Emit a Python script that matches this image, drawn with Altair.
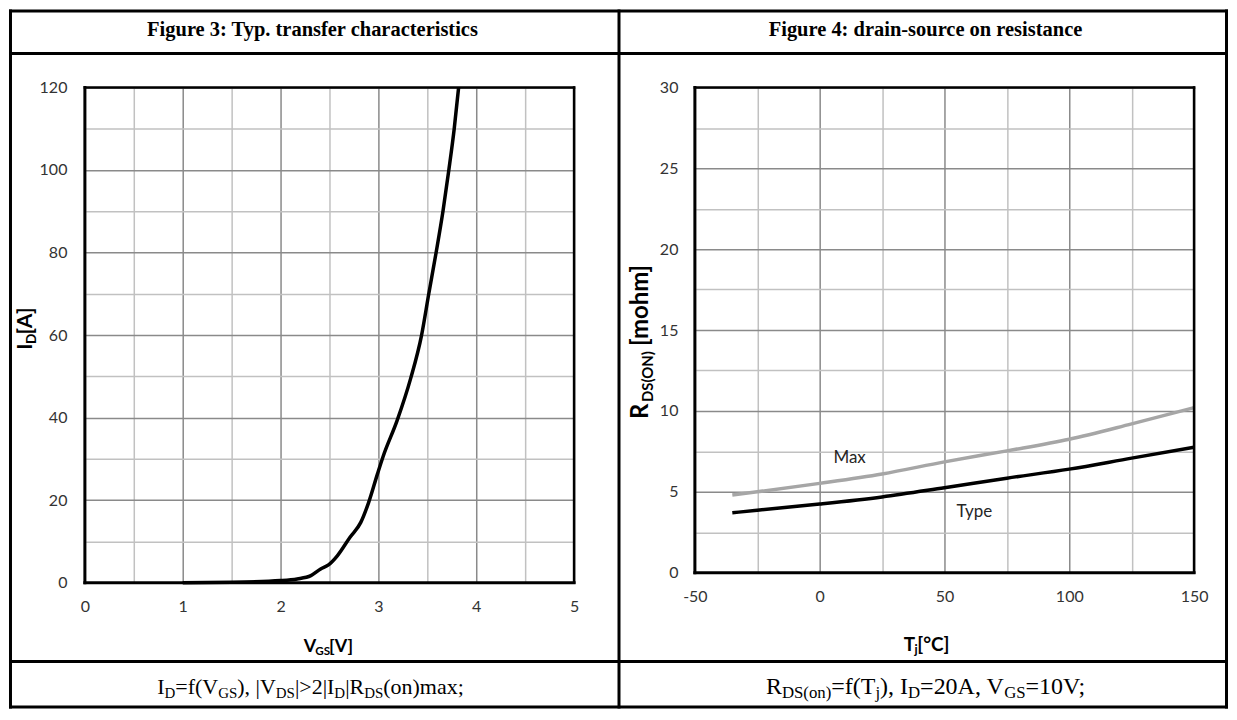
import altair as alt
import pandas as pd

# ---------------- data ----------------
# Figure 3: transfer characteristic
vgs = [1.0, 1.5, 2.0, 2.17, 2.31, 2.41, 2.49, 2.58, 2.71, 2.82, 2.90, 2.99, 3.05,
       3.19, 3.33, 3.44, 3.515, 3.59, 3.66, 3.72, 3.775, 3.82]
id_a = [0.0, 0.1, 0.5, 0.9, 1.7, 3.3, 4.3, 6.5, 11.0, 14.6, 19.4, 26.3, 30.7,
        39.2, 49.5, 59.8, 70.0, 80.0, 90.0, 100.0, 110.0, 120.0]

# Figure 4: on resistance vs temperature
tj = [-35, -25, 0, 25, 50, 75, 100, 125, 150]
r_max = [4.8, 5.0, 5.52, 6.1, 6.85, 7.53, 8.25, 9.2, 10.2]
r_typ = [3.7, 3.86, 4.24, 4.68, 5.25, 5.84, 6.4, 7.08, 7.75]

curve_names = ["Max", "Type"]
name_t = [12, 62]
name_r = [7.1, 3.77]

x1_ticks = [0, 0.5, 1, 1.5, 2, 2.5, 3, 3.5, 4, 4.5, 5]
y1_ticks = [0, 10, 20, 30, 40, 50, 60, 70, 80, 90, 100, 110, 120]
x2_ticks = [-50, -25, 0, 25, 50, 75, 100, 125, 150]
y2_ticks = [0, 2.5, 5, 7.5, 10, 12.5, 15, 17.5, 20, 22.5, 25, 27.5, 30]

title1 = "Figure 3: Typ. transfer characteristics"
title2 = "Figure 4: drain-source on resistance"
foot1 = [("I", 0), ("D", 1), ("=f(", 0), ("V", 0), ("GS", 1), ("), |", 0), ("V", 0),
         ("DS", 1), ("|>2|I", 0), ("D", 1), ("|R", 0), ("DS", 1), ("(on)max;", 0)]
foot2 = [("R", 0), ("DS(on)", 1), ("=f(T", 0), ("j", 1), ("), I", 0), ("D", 1),
         ("=20A, V", 0), ("GS", 1), ("=10V;", 0)]
xt1 = [("V", 0), ("GS", 1), ("[V]", 0)]
yt1 = [("I", 0), ("D", 1), ("[A]", 0)]
xt2 = [("T", 0), ("j", 1), ("[°C]", 0)]
yt2 = [("R", 0), ("DS(ON)", 1), ("[mohm]", 0)]

# ---------------- layout helpers ----------------
TIMES = {' ': .25, '(': .333, ')': .333, ',': .25, '.': .25, ':': .278, ';': .278,
         '=': .564, '>': .564, '|': .2, 'A': .722, 'C': .667, 'D': .722, 'G': .722,
         'I': .333, 'R': .667, 'S': .556, 'T': .611, 'V': .722, 'a': .444, 'f': .333,
         'j': .278, 'm': .778, 'n': .5, 'o': .5, 'x': .5}
LATO_B = {'V': .64, 'G': .68, 'S': .50, '[': .30, ']': .30, 'I': .27, 'D': .70,
          'A': .64, 'T': .56, 'j': .23, '°': .36, 'C': .62, 'R': .60, '(': .30,
          ')': .30, 'O': .74, 'N': .71, ' ': .18, 'm': .80, 'o': .54, 'h': .54}

one = pd.DataFrame({"k": [0]})
SERIF = "Times New Roman, Liberation Serif, serif"
SANS = "Lato, Carlito, Calibri, sans-serif"

# page coordinates of the two plot areas
P1X, P1Y, W1, H1 = 84, 86, 490, 496
P2X, P2Y, W2, H2 = 695, 86, 500, 486


def seg_text(segs, widths, size, cx, cy, ox, oy, font, weight="normal",
             ratio=0.65, drop=0.2, angle=0, starts=None):
    sizes = [size * ratio if s else size for _, s in segs]
    ws = [sum(widths.get(c, 0.5) for c in t) * sz for (t, _), sz in zip(segs, sizes)]
    total = sum(ws)
    pos = -total / 2
    out = []
    for i, ((t, s), sz, w) in enumerate(zip(segs, sizes, ws)):
        if angle == 0:
            x = cx + pos if starts is None else starts[i]
            y = cy + (drop * size if s else 0)
        else:
            x = cx + (drop * size if s else 0)
            y = cy - pos if starts is None else starts[i]
        out.append(
            alt.Chart(one).mark_text(text=t, font=font, fontSize=sz, fontWeight=weight,
                                     align="left", baseline="alphabetic", angle=angle,
                                     color="black")
            .encode(x=alt.value(x - ox), y=alt.value(y - oy)))
        pos += w
    return out


def hrule(x1, x2, y, ox, oy, w=3, color="black"):
    return alt.Chart(one).mark_rule(strokeWidth=w, color=color, strokeCap="square").encode(
        x=alt.value(x1 - ox), x2=alt.value(x2 - ox), y=alt.value(y - oy))


def vrule(x, y1, y2, ox, oy, w=3, color="black"):
    return alt.Chart(one).mark_rule(strokeWidth=w, color=color, strokeCap="square").encode(
        x=alt.value(x - ox), y=alt.value(y1 - oy), y2=alt.value(y2 - oy))


def grid_color(test):
    return {"condition": {"test": test, "value": "#8a8a8a"}, "value": "#c1c1c1"}


# ---------------- left panel ----------------
df1 = pd.DataFrame({"vgs": vgs, "id": id_a})
x1 = alt.X("vgs:Q", scale=alt.Scale(domain=[0, 5], nice=False),
           axis=alt.Axis(values=x1_ticks, title=None, labelPadding=16,
                         labelExpr="datum.value % 1 === 0 ? '' + datum.value : ''",
                         gridColor=grid_color("datum.value % 1 === 0")))
y1 = alt.Y("id:Q", scale=alt.Scale(domain=[0, 120], nice=False),
           axis=alt.Axis(values=y1_ticks, title=None, labelPadding=18,
                         labelExpr="datum.value % 20 === 0 ? '' + datum.value : ''",
                         gridColor=grid_color("datum.value % 20 === 0")))
curve1 = alt.Chart(df1).mark_line(color="black", strokeWidth=3.5,
                                  interpolate="monotone").encode(x=x1, y=y1)

# table frame (page coords); kept inside the 1221 x 700 drawing area
LX, TY, RX, BY, MX, HY, FY = 9.5, 9.5, 1227.5, 706.5, 619, 52, 661
frame = [
    hrule(LX, RX, TY, P1X, P1Y), hrule(LX, RX, HY, P1X, P1Y),
    hrule(LX, RX, FY, P1X, P1Y), hrule(LX, RX, BY, P1X, P1Y),
    vrule(LX, TY, BY, P1X, P1Y), vrule(MX, TY, BY, P1X, P1Y),
    vrule(RX, TY, BY, P1X, P1Y),
]
box1 = [
    vrule(P1X, P1Y, P1Y + H1, P1X, P1Y, 3), hrule(P1X, P1X + W1, P1Y + H1, P1X, P1Y, 3),
    hrule(P1X, P1X + W1, P1Y, P1X, P1Y, 2.5), vrule(P1X + W1, P1Y, P1Y + H1, P1X, P1Y, 2.5),
]
titles = [
    alt.Chart(one).mark_text(text=title1, font=SERIF, fontSize=20.5, fontWeight="bold",
                             align="center", baseline="alphabetic", color="black")
    .encode(x=alt.value(312 - P1X), y=alt.value(34 - P1Y)),
    alt.Chart(one).mark_text(text=title2, font=SERIF, fontSize=20.5, fontWeight="bold",
                             align="center", baseline="alphabetic", color="black")
    .encode(x=alt.value(926 - P1X), y=alt.value(34 - P1Y)),
]
feet = (seg_text(foot1, TIMES, 22, 310, 694, P1X, P1Y, SERIF, ratio=0.68, drop=0.16)
        + seg_text(foot2, TIMES, 24, 927, 694, P1X, P1Y, SERIF, ratio=0.7, drop=0.16))
ax1 = (seg_text(xt1, LATO_B, 18, 327, 651, P1X, P1Y, SANS, "bold")
       + seg_text(yt1, LATO_B, 21, 31, 328, P1X, P1Y, SANS, "bold", angle=270))

left = alt.layer(curve1, *box1, *frame, *titles, *feet, *ax1).properties(width=W1, height=H1)

# ---------------- right panel ----------------
df_max = pd.DataFrame({"tj": tj, "r": r_max})
df_typ = pd.DataFrame({"tj": tj, "r": r_typ})
df_lab = pd.DataFrame({"tj": name_t, "r": name_r, "name": curve_names})
x2 = alt.X("tj:Q", scale=alt.Scale(domain=[-50, 150], nice=False),
           axis=alt.Axis(values=x2_ticks, title=None, labelPadding=16,
                         labelExpr="datum.value % 50 === 0 ? '' + datum.value : ''",
                         gridColor=grid_color("datum.value % 50 === 0")))
y2 = alt.Y("r:Q", scale=alt.Scale(domain=[0, 30], nice=False),
           axis=alt.Axis(values=y2_ticks, title=None, labelPadding=17,
                         labelExpr="datum.value % 5 === 0 ? '' + datum.value : ''",
                         gridColor=grid_color("datum.value % 5 === 0")))
line_max = alt.Chart(df_max).mark_line(color="#a6a6a6", strokeWidth=3.5,
                                       interpolate="monotone").encode(x=x2, y=y2)
line_typ = alt.Chart(df_typ).mark_line(color="black", strokeWidth=3.5,
                                       interpolate="monotone").encode(x=x2, y=y2)
labels = alt.Chart(df_lab).mark_text(font=SANS, fontSize=17, color="#262626",
                                     align="center", baseline="middle").encode(
    x="tj:Q", y="r:Q", text="name:N")
box2 = [
    vrule(P2X, P2Y, P2Y + H2, P2X, P2Y, 3), hrule(P2X, P2X + W2, P2Y + H2, P2X, P2Y, 3),
    hrule(P2X, P2X + W2, P2Y, P2X, P2Y, 2.5), vrule(P2X + W2, P2Y, P2Y + H2, P2X, P2Y, 2.5),
]
ax2 = (seg_text(xt2, LATO_B, 19, 926, 650, P2X, P2Y, SANS, "bold")
       + seg_text(yt2, LATO_B, 24, 648, 335, P2X, P2Y, SANS, "bold", ratio=0.62,
                  angle=270, starts=[418, 401, 345]))

right = alt.layer(line_max, line_typ, labels, *box2, *ax2).properties(width=W2, height=H2)

chart = (
    alt.hconcat(left, right, spacing=P2X - P1X - W1, bounds="flush")
    .properties(padding=0, autosize=alt.AutoSizeParams(type="pad"), background="white")
    .configure_view(stroke=None)
    .configure_axis(ticks=False, domain=False, grid=True, gridWidth=1.5,
                    labelFont=SANS, labelFontSize=16, labelColor="#333333",
                    labelFlush=False)
)

chart.save("out.html", embed_options={"renderer": "svg", "actions": False})
